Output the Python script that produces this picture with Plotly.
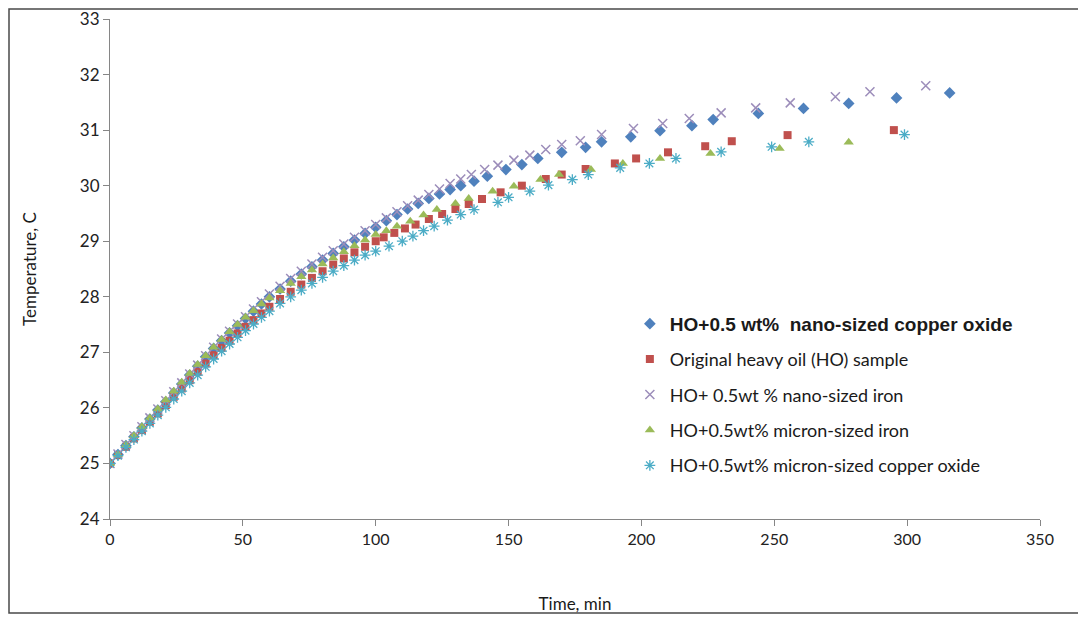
import plotly.graph_objects as go

# HO + 0.5 wt% nano-sized copper oxide
t_nano_cuo = [0, 3, 6, 9, 12, 15, 18, 21, 24, 27, 30, 33, 36, 39, 42, 45, 48, 51, 54, 57, 60,
              64, 68, 72, 76, 80, 84, 88, 92, 96, 100, 104, 108, 112, 116, 120, 124, 128, 132,
              137, 142, 149, 155, 161, 170, 179, 185, 196, 207, 219, 227, 244, 261, 278, 296, 316]
temp_nano_cuo = [25.00, 25.16, 25.32, 25.48, 25.64, 25.80, 25.96, 26.11, 26.27, 26.43, 26.59,
                 26.75, 26.92, 27.07, 27.21, 27.35, 27.48, 27.61, 27.74, 27.87, 28.00,
                 28.14, 28.28, 28.41, 28.54, 28.66, 28.78, 28.90, 29.02, 29.14, 29.25, 29.37,
                 29.48, 29.58, 29.68, 29.77, 29.85, 29.93, 30.00, 30.08, 30.17, 30.29, 30.38,
                 30.49, 30.60, 30.69, 30.79, 30.88, 30.99, 31.08, 31.19, 31.30, 31.39, 31.48,
                 31.58, 31.67]

# Original heavy oil sample
t_original = [0, 3, 6, 9, 12, 15, 18, 21, 24, 27, 30, 33, 36, 39, 42, 45, 48, 51, 54, 57, 60,
              64, 68, 72, 76, 80, 84, 88, 92, 96, 100, 103, 107, 111, 115, 120, 125, 130, 135,
              140, 147, 155, 164, 170, 179, 190, 198, 210, 224, 234, 255, 295]
temp_original = [25.00, 25.15, 25.30, 25.45, 25.60, 25.75, 25.90, 26.05, 26.20, 26.35, 26.50,
                 26.65, 26.80, 26.95, 27.08, 27.21, 27.34, 27.46, 27.58, 27.70, 27.82,
                 27.96, 28.09, 28.22, 28.34, 28.46, 28.58, 28.69, 28.80, 28.90, 29.00, 29.07,
                 29.15, 29.23, 29.30, 29.40, 29.49, 29.58, 29.67, 29.76, 29.88, 30.00, 30.12,
                 30.20, 30.30, 30.40, 30.49, 30.60, 30.71, 30.80, 30.91, 31.00]

# HO + 0.5 wt% nano-sized iron
t_nano_fe = [0, 3, 6, 9, 12, 15, 18, 21, 24, 27, 30, 33, 36, 39, 42, 45, 48, 51, 54, 57, 60,
             64, 68, 72, 76, 80, 84, 88, 92, 96, 100, 104, 108, 112, 116, 120, 124, 128, 132,
             136, 141, 146, 152, 158, 164, 170, 177, 185, 197, 208, 218, 230, 243, 256, 273,
             286, 307]
temp_nano_fe = [25.00, 25.17, 25.34, 25.50, 25.66, 25.82, 25.98, 26.13, 26.29, 26.45, 26.61,
                26.77, 26.94, 27.09, 27.24, 27.38, 27.51, 27.64, 27.78, 27.91, 28.05,
                28.19, 28.33, 28.46, 28.59, 28.71, 28.83, 28.95, 29.07, 29.19, 29.30, 29.42,
                29.53, 29.64, 29.74, 29.84, 29.94, 30.04, 30.12, 30.20, 30.29, 30.37, 30.46,
                30.55, 30.65, 30.74, 30.81, 30.92, 31.03, 31.12, 31.21, 31.31, 31.40, 31.49,
                31.60, 31.69, 31.80]

# HO + 0.5 wt% micron-sized iron
t_micron_fe = [0, 3, 6, 9, 12, 15, 18, 21, 24, 27, 30, 33, 36, 39, 42, 45, 48, 51, 54, 57, 60,
               64, 68, 72, 76, 80, 84, 88, 92, 96, 100, 104, 108, 113, 118, 123, 130, 135, 144,
               152, 162, 169, 181, 193, 207, 226, 252, 278]
temp_micron_fe = [25.00, 25.16, 25.33, 25.50, 25.66, 25.82, 25.98, 26.14, 26.30, 26.46, 26.62,
                  26.78, 26.94, 27.09, 27.23, 27.37, 27.50, 27.63, 27.75, 27.87, 27.98,
                  28.11, 28.24, 28.36, 28.48, 28.59, 28.70, 28.81, 28.92, 29.02, 29.12, 29.19,
                  29.27, 29.36, 29.47, 29.57, 29.68, 29.77, 29.90, 29.99, 30.11, 30.20, 30.29,
                  30.40, 30.49, 30.58, 30.67, 30.78]

# HO + 0.5 wt% micron-sized copper oxide
t_micron_cuo = [0, 3, 6, 9, 12, 15, 18, 21, 24, 27, 30, 33, 36, 39, 42, 45, 48, 51, 54, 57, 60,
                64, 68, 72, 76, 80, 84, 88, 92, 96, 100, 105, 110, 114, 118, 122, 127, 132, 137,
                146, 150, 158, 165, 174, 180, 192, 203, 213, 230, 249, 263, 299]
temp_micron_cuo = [25.00, 25.14, 25.29, 25.43, 25.58, 25.72, 25.87, 26.01, 26.16, 26.30, 26.45,
                   26.59, 26.74, 26.88, 27.02, 27.15, 27.27, 27.39, 27.51, 27.63, 27.74,
                   27.88, 28.00, 28.12, 28.24, 28.35, 28.46, 28.56, 28.66, 28.75, 28.82, 28.91,
                   29.00, 29.09, 29.19, 29.27, 29.38, 29.48, 29.57, 29.70, 29.79, 29.90, 30.01,
                   30.11, 30.20, 30.32, 30.40, 30.49, 30.61, 30.70, 30.79, 30.92]

x_ticks = [0, 50, 100, 150, 200, 250, 300, 350]
y_ticks = [24, 25, 26, 27, 28, 29, 30, 31, 32, 33]

axis_color = "#868686"
text_font = "Lato, 'Open Sans', sans-serif"

series = [
    dict(x=t_nano_cuo, y=temp_nano_cuo,
         name="<span style='font-family:Arial, Liberation Sans;font-size:19px'>"
              "<b>HO+0.5 wt%  nano-sized copper oxide</b></span>",
         marker=dict(symbol="diamond", size=9, color="#4F81BD")),
    dict(x=t_original, y=temp_original,
         name="Original heavy oil (HO) sample",
         marker=dict(symbol="square", size=8, color="#C0504D")),
    dict(x=t_nano_fe, y=temp_nano_fe,
         name="HO+ 0.5wt % nano-sized iron",
         marker=dict(symbol="x-thin-open", size=9, color="#9C8DBA",
                     line=dict(color="#9C8DBA", width=1.5))),
    dict(x=t_micron_fe, y=temp_micron_fe,
         name="HO+0.5wt% micron-sized iron",
         marker=dict(symbol="triangle-up", size=9, color="#9BBB59")),
    dict(x=t_micron_cuo, y=temp_micron_cuo,
         name="HO+0.5wt% micron-sized copper oxide",
         marker=dict(symbol="asterisk-open", size=9, color="#4BACC6",
                     line=dict(color="#4BACC6", width=1.3))),
]

fig = go.Figure()

for i, s in enumerate(series):
    fig.add_trace(
        go.Scatter(
            x=s["x"],
            y=s["y"],
            mode="markers",
            name=s["name"],
            marker=s["marker"],
            legendgroup=f"g{i}",
        )
    )

# The page body adds 8px around the figure, so the figure is 8px smaller
# and the plot area sits at 102..1032 x 11..511 inside it.
W, H = 1078, 611
L, R, T, B = 102, 46, 11, 100
pw, ph = W - L - R, H - T - B

# Outer frame around the whole picture
fig.add_shape(
    type="rect",
    xref="paper",
    yref="paper",
    x0=(1 - L) / pw,
    x1=(1075 - L) / pw,
    y0=-(605 - (H - B)) / ph,
    y1=(H - B - 1) / ph,
    line=dict(color="#4a4a4a", width=1.5),
)

fig.update_layout(
    width=W,
    height=H,
    paper_bgcolor="white",
    plot_bgcolor="white",
    margin=dict(l=L, r=R, t=T, b=B, autoexpand=False),
    font=dict(family=text_font, size=16, color="#1a1a1a"),
    showlegend=True,
    legend=dict(
        x=0.559,
        y=0.427,
        xanchor="left",
        yanchor="top",
        bgcolor="rgba(0,0,0,0)",
        font=dict(family=text_font, size=18, color="#1a1a1a"),
        tracegroupgap=9,
        traceorder="grouped",
        itemwidth=30,
    ),
    xaxis=dict(
        range=[0, 350],
        tickvals=x_ticks,
        ticks="outside",
        ticklen=6,
        tickcolor=axis_color,
        showline=True,
        linecolor=axis_color,
        linewidth=1,
        showgrid=False,
        zeroline=False,
        automargin=False,
        ticklabeloverflow="allow",
        tickfont=dict(family=text_font, size=16, color="#222222"),
        title=dict(text="Time, min", standoff=50, font=dict(family=text_font, size=17)),
    ),
    yaxis=dict(
        range=[24, 33],
        tickvals=y_ticks,
        ticks="outside",
        ticklen=6,
        tickcolor=axis_color,
        showline=True,
        linecolor=axis_color,
        linewidth=1,
        showgrid=False,
        zeroline=False,
        automargin=False,
        ticklabeloverflow="allow",
        tickfont=dict(family=text_font, size=17, color="#222222"),
        title=dict(text="Temperature, C", standoff=38, font=dict(size=17)),
    ),
)

fig.write_html("out.html")
